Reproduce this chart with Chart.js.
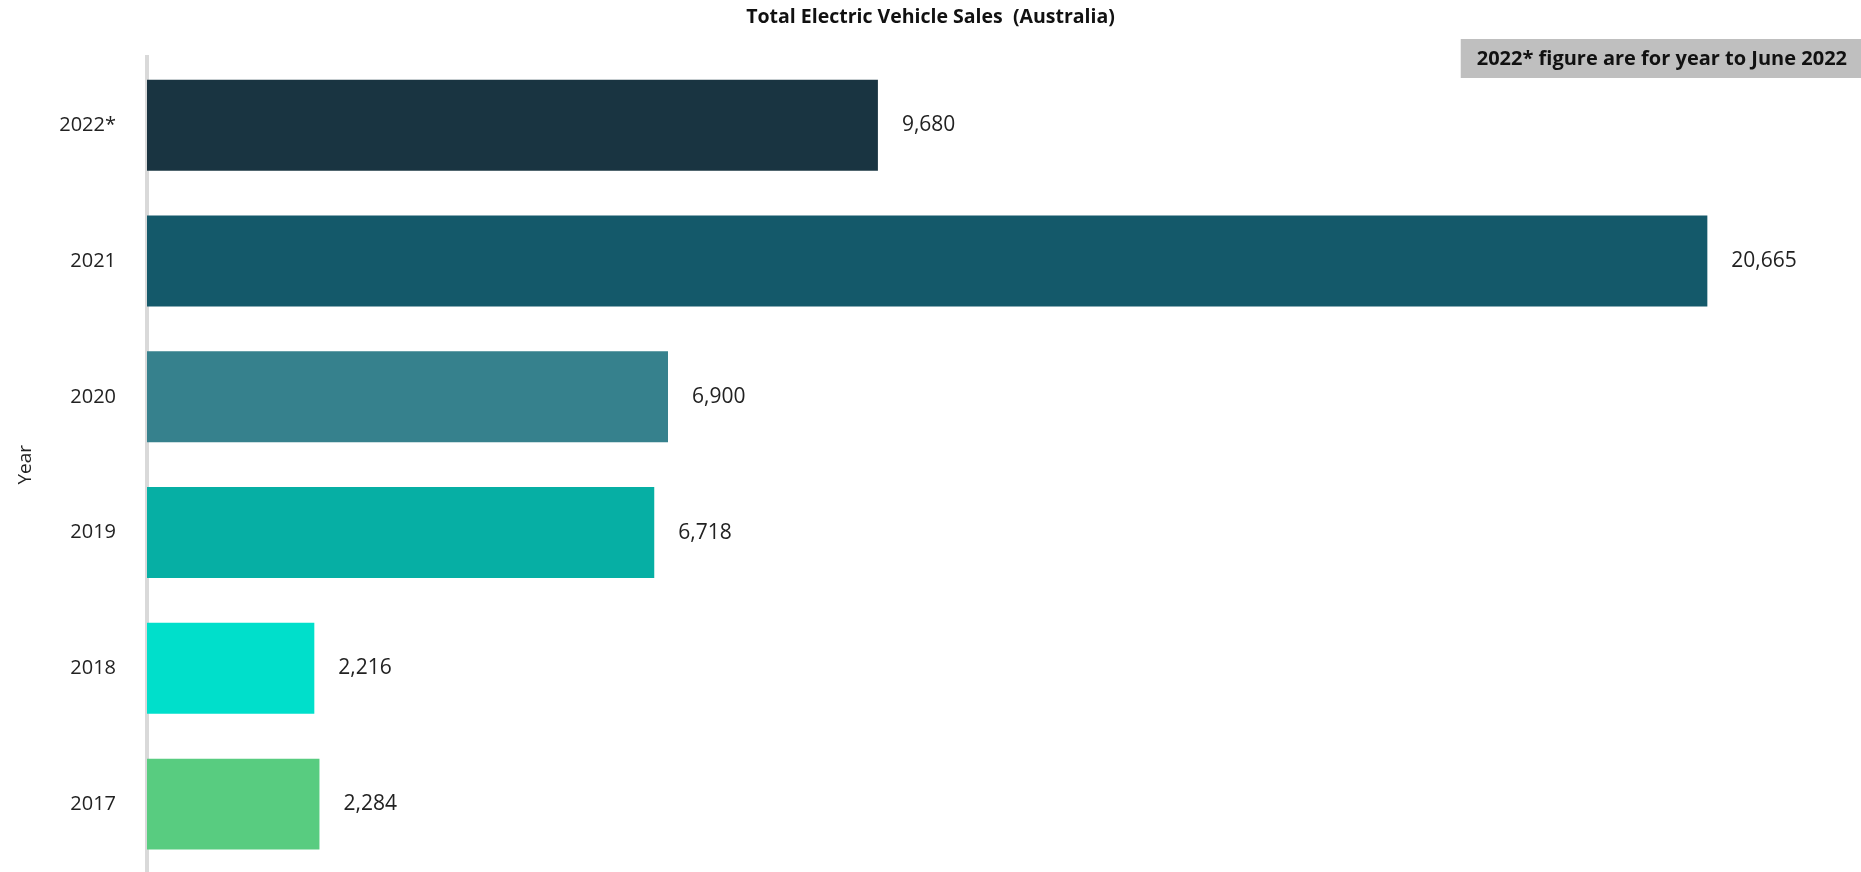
<!DOCTYPE html>
<html>
<head>
<meta charset="utf-8">
<title>Total Electric Vehicle Sales (Australia)</title>
<script src="https://cdn.jsdelivr.net/npm/chart.js@4/dist/chart.umd.min.js"></script>
<style>
    html, body { margin: 0; padding: 0; background: #ffffff; overflow: hidden; }
    #salesChart { display: block; }
</style>
</head>
<body>
<canvas id="salesChart" width="1861" height="872"></canvas>
<script>
const years = ['2022*', '2021', '2020', '2019', '2018', '2017'];
const sales = [9680, 20665, 6900, 6718, 2216, 2284];
const barColors = ['#193441', '#14596a', '#36818d', '#06afa4', '#00dfcb', '#58cc80'];
const noteText = '2022* figure are for year to June 2022';

document.addEventListener('DOMContentLoaded', () => {
    const FONT = "'Open Sans', 'Noto Sans', sans-serif";

    // numeros al final de cada barra
    const valueLabels = {
        id: 'valueLabels',
        afterDatasetsDraw(chart) {
            const ctx = chart.ctx;
            const meta = chart.getDatasetMeta(0);
            ctx.save();
            ctx.font = '21px ' + FONT;
            ctx.fillStyle = '#222222';
            ctx.textAlign = 'left';
            ctx.textBaseline = 'middle';
            meta.data.forEach((bar, i) => {
                ctx.fillText(sales[i].toLocaleString('en-US'), bar.x + 24, bar.y);
            });
            ctx.restore();
        }
    };

    // caja gris con la nota arriba a la derecha
    const noteBox = {
        id: 'noteBox',
        afterDraw(chart) {
            const ctx = chart.ctx;
            ctx.save();
            ctx.font = 'bold 20px ' + FONT;
            const w = ctx.measureText(noteText).width + 30;
            const x = chart.width - w;
            ctx.fillStyle = '#bfbfbf';
            ctx.fillRect(x, 39, w, 39);
            ctx.fillStyle = '#111111';
            ctx.textAlign = 'right';
            ctx.textBaseline = 'middle';
            ctx.fillText(noteText, chart.width - 14, 59);
            ctx.restore();
        }
    };

    new Chart(document.getElementById('salesChart'), {
        type: 'bar',
        data: {
            labels: years,
            datasets: [{
                data: sales,
                backgroundColor: barColors,
                borderWidth: 0,
                barPercentage: 0.67,
                categoryPercentage: 1
            }]
        },
        options: {
            indexAxis: 'y',
            responsive: false,
            animation: false,
            layout: { padding: 0 },
            scales: {
                x: { display: false, min: 0, max: 22700 },
                y: {
                    afterFit: (s) => { s.width = 147; },
                    // el largo del tick separa las etiquetas sin reservar espacio abajo
                    grid: { display: false, drawTicks: true, tickLength: 43 },
                    border: { display: true, color: '#d9d9d9', width: 4 },
                    ticks: { color: '#222222', padding: -12, font: { family: FONT, size: 20 } },
                    title: { display: true, text: 'Year', color: '#222222', padding: { top: 14, bottom: 0 }, font: { family: FONT, size: 19 } }
                }
            },
            plugins: {
                legend: { display: false },
                tooltip: { enabled: false },
                title: {
                    display: true,
                    text: 'Total Electric Vehicle Sales  (Australia)',
                    color: '#111111',
                    padding: { top: 6, bottom: 28 },
                    font: { family: FONT, size: 19.5, weight: 'bold' }
                }
            }
        },
        plugins: [valueLabels, noteBox]
    });
});
</script>
</body>
</html>
